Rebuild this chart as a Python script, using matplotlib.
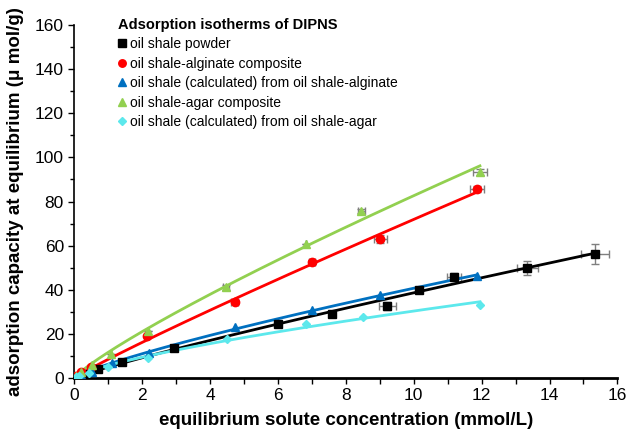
import numpy as np
import matplotlib
matplotlib.use('Agg')
import matplotlib.pyplot as plt

plt.rcParams['font.family'] = ['Liberation Sans', 'DejaVu Sans']

# concentrations (mmol/L) and adsorption capacity (umol/g)
powder_c = [0.05, 0.25, 0.71, 1.40, 2.95, 6.0, 7.58, 9.22, 10.16, 11.19, 13.35, 15.34]
powder_q = [0.4, 1.6, 3.9, 7.4, 13.6, 24.7, 29.0, 32.6, 39.9, 45.8, 49.9, 56.2]
powder_xerr = [0, 0, 0, 0, 0, 0, 0, 0.25, 0, 0.2, 0.3, 0.4]
powder_yerr = [0, 0, 0, 0, 0, 0, 0, 2.0, 0, 1.6, 3.0, 4.5]

alg_c = [0.05, 0.2, 0.5, 2.15, 4.73, 7.0, 9.02, 11.86]
alg_q = [1.0, 2.5, 5.0, 18.9, 34.5, 52.6, 63.0, 85.7]
alg_xerr = [0, 0, 0, 0, 0.1, 0.1, 0.2, 0.2]
alg_yerr = [0, 0, 0, 0, 1.0, 1.0, 1.8, 1.5]

alg_calc_c = [0.05, 0.2, 0.52, 1.12, 2.2, 4.73, 7.0, 9.02, 11.86]
alg_calc_q = [0.4, 1.2, 2.9, 6.7, 11.5, 23.0, 30.8, 37.6, 46.2]

agar_c = [0.05, 0.2, 0.52, 1.09, 2.17, 4.47, 6.83, 8.46, 11.95]
agar_q = [1.0, 2.6, 6.0, 10.9, 21.5, 41.1, 60.7, 75.7, 93.4]
agar_xerr = [0, 0, 0, 0, 0, 0.1, 0, 0.1, 0.2]
agar_yerr = [0, 0, 0, 0, 0, 1.0, 0, 1.0, 1.5]

agar_calc_c = [0.05, 0.15, 0.44, 1.0, 2.18, 4.49, 6.82, 8.49, 11.95]
agar_calc_q = [0.3, 0.9, 2.3, 5.0, 9.2, 17.6, 24.5, 27.7, 33.1]


def freundlich_curve(c, q, cmax):
    # least squares fit of q = k * c**n on the linear scale
    c = np.array(c)
    q = np.array(q)
    best = None
    for n in np.linspace(0.3, 1.3, 401):
        cn = c ** n
        k = np.sum(q * cn) / np.sum(cn * cn)
        err = np.sum((q - k * cn) ** 2)
        if best is None or err < best[0]:
            best = (err, k, n)
    _, k, n = best
    xs = np.linspace(0, cmax, 200)
    return xs, k * xs ** n


fig = plt.figure(figsize=(6.3, 4.32), dpi=100)
ax = fig.add_axes([0.118, 0.125, 0.862, 0.817])

series = [
    (powder_c, powder_q, powder_xerr, powder_yerr, 'black', 's', 'oil shale powder'),
    (alg_c, alg_q, alg_xerr, alg_yerr, '#FF0000', 'o', 'oil shale-alginate composite'),
    (alg_calc_c, alg_calc_q, None, None, '#0070C0', '^', 'oil shale (calculated) from oil shale-alginate'),
    (agar_c, agar_q, agar_xerr, agar_yerr, '#92D050', '^', 'oil shale-agar composite'),
    (agar_calc_c, agar_calc_q, None, None, '#5CE8EC', 'D', 'oil shale (calculated) from oil shale-agar'),
]

for c, q, xe, ye, col, mk, lab in series:
    xs, ys = freundlich_curve(c, q, max(c))
    ax.plot(xs, ys, color=col, lw=2, zorder=3)
    if xe is not None:
        ax.errorbar(c, q, xerr=xe, yerr=ye, fmt='none', ecolor='#7f7f7f',
                    elinewidth=1, capsize=3, zorder=2)
    ms = 6 if mk != 'D' else 4.5
    ax.plot(c, q, linestyle='none', marker=mk, color=col, markersize=ms,
            label=lab, zorder=4)

ax.set_xlim(0, 16)
ax.set_ylim(0, 160)
ax.set_xticks(np.arange(0, 17, 2))
ax.set_xticks(np.arange(0, 17, 1), minor=True)
ax.set_yticks(np.arange(0, 161, 20))
ax.set_yticks(np.arange(0, 161, 10), minor=True)
ax.tick_params(which='both', direction='out', labelsize=12.5, width=1)
ax.tick_params(which='major', length=4)
ax.tick_params(axis='x', which='minor', length=4)
ax.tick_params(axis='y', which='minor', length=3)
ax.spines['top'].set_visible(False)
ax.spines['right'].set_visible(False)
ax.spines['left'].set_linewidth(1.2)
ax.spines['bottom'].set_linewidth(2)

ax.set_xlabel('equilibrium solute concentration (mmol/L)', fontsize=13.5,
              fontweight='bold', labelpad=6)
ax.set_ylabel('adsorption capacity at equilibrium (μ mol/g)', fontsize=13.5,
              fontweight='bold', labelpad=8)

leg = ax.legend(title='Adsorption isotherms of DIPNS', loc='upper left',
                frameon=False, fontsize=10, handlelength=0.6, handletextpad=0.3,
                labelspacing=0.4, borderaxespad=0.2, markerscale=0.9,
                bbox_to_anchor=(0.065, 1.045))
leg.get_title().set_fontweight('bold')
leg.get_title().set_fontsize(10.5)
leg._legend_box.align = 'left'

fig.savefig('out.png', dpi=100)
